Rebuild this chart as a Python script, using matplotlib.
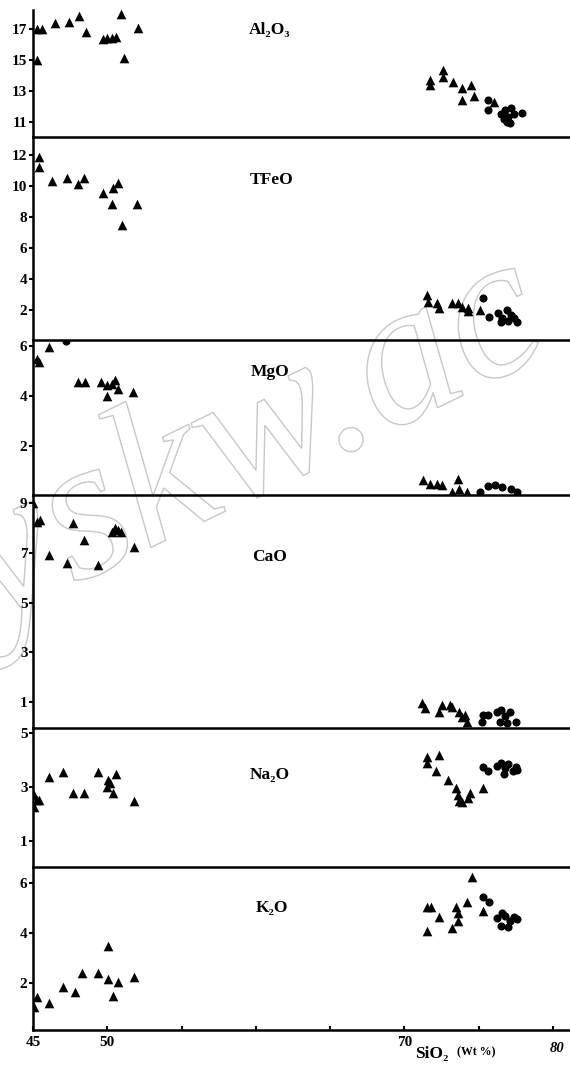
import matplotlib
matplotlib.use("Agg")
import matplotlib.pyplot as plt
from matplotlib.textpath import TextPath
from matplotlib.patches import PathPatch
from matplotlib.font_manager import FontProperties
from matplotlib.transforms import Affine2D, IdentityTransform

# ---------------- data (SiO2 wt% on x) ----------------
oxides = ["Al₂O₃", "TFeO", "MgO", "CaO", "Na₂O", "K₂O"]

al2o3_tri_x = [45.3, 45.6, 45.3, 46.5, 47.4, 48.1, 48.6, 49.7, 50.0, 50.3, 50.6, 50.9, 51.1, 52.1,
               71.7, 71.7, 72.6, 72.6, 73.3, 73.9, 74.5, 74.7, 73.9, 76.0]
al2o3_tri_y = [17.0, 17.0, 15.0, 17.4, 17.45, 17.85, 16.8, 16.35, 16.4, 16.45, 16.5, 18.0, 15.1, 17.1,
               13.7, 13.4, 14.35, 13.9, 13.6, 13.2, 13.4, 12.7, 12.4, 12.3]
al2o3_dot_x = [75.6, 75.6, 76.5, 76.8, 77.0, 77.2, 77.4, 76.7, 77.1, 77.9, 76.9]
al2o3_dot_y = [12.4, 11.8, 11.5, 11.8, 11.3, 11.9, 11.5, 11.2, 10.95, 11.6, 11.0]

tfeo_tri_x = [45.4, 45.4, 46.3, 47.3, 48.0, 48.4, 49.7, 50.4, 50.7, 50.3, 51.0, 52.0,
              71.5, 71.6, 72.2, 72.3, 73.2, 73.6, 73.9, 74.3, 74.3, 75.1]
tfeo_tri_y = [11.9, 11.2, 10.3, 10.5, 10.1, 10.5, 9.55, 9.9, 10.2, 8.85, 7.5, 8.85,
              2.95, 2.5, 2.45, 2.1, 2.45, 2.45, 2.2, 2.1, 1.9, 2.0]
tfeo_dot_x = [75.3, 75.7, 76.3, 76.6, 76.9, 77.2, 77.0, 77.4, 77.6, 76.5]
tfeo_dot_y = [2.8, 1.55, 1.8, 1.5, 2.0, 1.7, 1.3, 1.45, 1.2, 1.25]

mgo_tri_x = [45.4, 45.3, 46.1, 48.0, 48.5, 49.6, 50.0, 50.5, 50.3, 50.7, 50.0, 51.7,
             71.25, 71.7, 72.2, 72.5, 73.6, 73.2, 73.7, 74.2]
mgo_tri_y = [5.35, 5.5, 5.95, 4.55, 4.55, 4.55, 4.45, 4.65, 4.5, 4.3, 4.0, 4.15,
             0.65, 0.5, 0.5, 0.45, 0.7, 0.15, 0.3, 0.15]
mgo_dot_x = [47.2, 75.1, 75.6, 76.1, 76.6, 77.2, 77.6]
mgo_dot_y = [6.2, 0.15, 0.4, 0.45, 0.35, 0.3, 0.15]

cao_tri_x = [45.0, 45.5, 45.3, 47.7, 48.4, 46.1, 47.3, 49.4, 50.3, 50.5, 50.7, 50.9, 51.8,
             71.2, 71.4, 72.3, 72.5, 73.1, 73.2, 73.7, 73.9, 74.2, 74.1]
cao_tri_y = [9.0, 8.3, 8.25, 8.2, 7.5, 6.9, 6.6, 6.5, 7.85, 8.0, 7.9, 7.85, 7.25,
             0.95, 0.75, 0.6, 0.9, 0.9, 0.8, 0.6, 0.4, 0.2, 0.5]
cao_dot_x = [75.2, 75.3, 75.6, 76.2, 76.5, 76.8, 77.1, 76.4, 76.9, 77.5]
cao_dot_y = [0.2, 0.5, 0.5, 0.6, 0.7, 0.45, 0.6, 0.2, 0.15, 0.2]

na2o_tri_x = [45.3, 45.1, 45.4, 45.1, 46.1, 47.0, 47.7, 48.4, 49.4, 50.05, 50.0, 50.4, 50.6, 50.2, 51.8,
              71.5, 72.3, 71.5, 72.1, 72.9, 73.5, 73.6, 73.9, 74.3, 74.4, 73.7, 75.3]
na2o_tri_y = [2.52, 2.26, 2.52, 2.7, 3.37, 3.55, 2.8, 2.8, 3.55, 3.25, 3.0, 2.8, 3.5, 3.15, 2.5,
              4.1, 4.2, 3.9, 3.6, 3.25, 2.95, 2.7, 2.45, 2.6, 2.8, 2.5, 2.95]
na2o_dot_x = [75.3, 75.6, 76.2, 76.5, 76.8, 77.0, 77.3, 77.5, 76.7, 77.6]
na2o_dot_y = [3.75, 3.6, 3.8, 3.9, 3.7, 3.85, 3.6, 3.75, 3.5, 3.65]

k2o_tri_x = [45.3, 45.1, 46.1, 47.0, 47.8, 48.3, 49.4, 50.05, 50.05, 50.7, 50.4, 51.8,
             74.55, 71.5, 71.8, 72.3, 71.5, 73.2, 73.5, 73.6, 73.6, 74.2, 75.3]
k2o_tri_y = [1.45, 1.05, 1.2, 1.85, 1.65, 2.4, 2.4, 3.5, 2.15, 2.05, 1.5, 2.25,
             6.25, 5.05, 5.05, 4.65, 4.1, 4.2, 5.05, 4.8, 4.5, 5.25, 4.9]
k2o_dot_x = [75.3, 75.7, 76.2, 76.5, 76.8, 77.1, 77.4, 76.6, 77.0, 77.6]
k2o_dot_y = [5.45, 5.25, 4.6, 4.3, 4.7, 4.5, 4.65, 4.8, 4.25, 4.55]

ytick_values = [[11, 13, 15, 17], [2, 4, 6, 8, 10, 12], [2, 4, 6], [1, 3, 5, 7, 9], [1, 3, 5], [2, 4, 6]]
y_limits = [(10.03, 18.23), (0.06, 13.16), (0.04, 6.24), (-0.04, 9.32), (0.04, 5.19), (0.12, 6.64)]
x_ticks = [45, 50, 55, 60, 65, 70, 75, 80]
x_ticklabels = ["45", "50", "", "", "", "70", "", ""]

tri_sets = [(al2o3_tri_x, al2o3_tri_y), (tfeo_tri_x, tfeo_tri_y), (mgo_tri_x, mgo_tri_y),
            (cao_tri_x, cao_tri_y), (na2o_tri_x, na2o_tri_y), (k2o_tri_x, k2o_tri_y)]
dot_sets = [(al2o3_dot_x, al2o3_dot_y), (tfeo_dot_x, tfeo_dot_y), (mgo_dot_x, mgo_dot_y),
            (cao_dot_x, cao_dot_y), (na2o_dot_x, na2o_dot_y), (k2o_dot_x, k2o_dot_y)]

# ---------------- layout ----------------
W, H = 570, 1065
fig = plt.figure(figsize=(W / 100, H / 100), dpi=100)
fig.patch.set_facecolor("white")

serif = ["Liberation Serif", "DejaVu Serif"]
bounds = [10, 137, 340, 495, 728, 867, 1030]  # pixel rows of panel edges
x_left, x_right = 33, 570
xlim = (45, 45 + (x_right - x_left) / 14.857)

# watermark (outline text)
wm = TextPath((0, 0), "yskw.ac", size=205,
              prop=FontProperties(family="Liberation Serif", style="italic"))
wm_tr = Affine2D().rotate_deg(26).translate(-8, H - 625) + IdentityTransform()
fig.add_artist(PathPatch(wm, facecolor="none", edgecolor="#c8c8c8", lw=1.0,
                         transform=wm_tr, zorder=0))

axes = []
for i in range(6):
    top, bot = bounds[i], bounds[i + 1]
    ax = fig.add_axes([x_left / W, 1 - bot / H, (x_right - x_left) / W, (bot - top) / H])
    ax.set_facecolor("none")
    ax.set_xlim(*xlim)
    ax.set_ylim(*y_limits[i])
    for s in ("top", "right"):
        ax.spines[s].set_visible(False)
    ax.spines["left"].set_linewidth(1.8)
    ax.spines["bottom"].set_linewidth(1.8)
    ax.set_yticks(ytick_values[i])
    ax.set_yticklabels([str(v) for v in ytick_values[i]], fontfamily=serif,
                       fontweight="bold", fontsize=11)
    ax.tick_params(axis="y", direction="out", length=3, width=1.5, pad=1)
    tx, ty = tri_sets[i]
    dx, dy = dot_sets[i]
    ax.scatter(tx, ty, marker="^", s=48, color="black", linewidths=0, zorder=3)
    ax.scatter(dx, dy, marker="o", s=34, color="black", linewidths=0, zorder=3)
    axes.append(ax)

# panel labels (pixel placement)
label_pos = [(270, 30), (272, 180), (270, 372), (270, 557), (270, 775), (272, 908)]
for name, (px, py) in zip(oxides, label_pos):
    fig.text(px / W, 1 - py / H, name, fontfamily=serif, fontweight="bold",
             fontsize=12.5, ha="center", va="center")

for ax in axes[:-1]:
    ax.tick_params(axis="x", bottom=False, labelbottom=False)

axb = axes[-1]
axb.set_xticks(x_ticks)
axb.set_xticklabels(x_ticklabels, fontfamily=serif, fontweight="bold", fontsize=11)
axb.tick_params(axis="x", direction="in", length=3, width=1.5, pad=4)

fig.text(557 / W, 1 - 1048 / H, "80", fontfamily=serif, fontstyle="italic",
         fontweight="bold", fontsize=10.5, ha="center", va="center")
fig.text(415 / W, 1 - 1054 / H, "SiO₂", fontfamily=serif, fontweight="bold",
         fontsize=12.5, ha="left", va="center")
fig.text(457 / W, 1 - 1052 / H, "(Wt %)", fontfamily=serif, fontweight="bold",
         fontsize=8.5, ha="left", va="center")

fig.savefig("out.png", dpi=100)
